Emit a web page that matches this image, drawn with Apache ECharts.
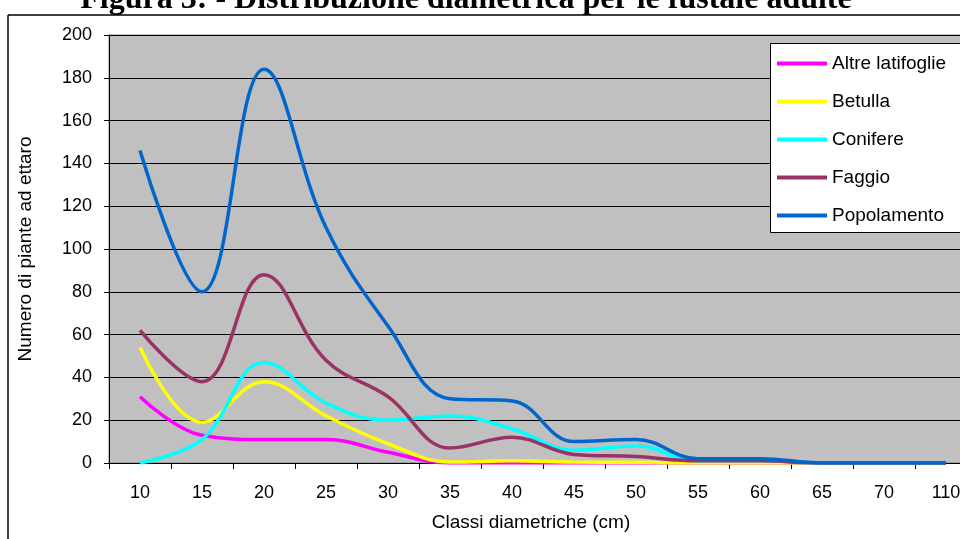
<!DOCTYPE html>
<html>
<head>
<meta charset="utf-8">
<style>
  html, body { margin: 0; padding: 0; background: #ffffff; overflow: hidden; }
  #chart { width: 1000px; height: 539px; }
</style>
<script src="https://cdn.jsdelivr.net/npm/echarts@6/dist/echarts.min.js"></script>
</head>
<body>
<div id="chart"></div>
<script>
// Classi diametriche (cm)
const classi = ['10', '15', '20', '25', '30', '35', '40', '45', '50', '55', '60', '65', '70', '110'];

// Numero di piante ad ettaro per specie
const altreLatifoglie = [31, 13, 11, 11, 5, 0, 0, 0, 0, 0, 0, 0, 0, 0];
const betulla         = [54, 19, 38, 22, 9, 0.5, 1, 0.5, 0.3, 0, 0, 0, 0, 0];
const conifere        = [0, 11, 47, 28, 20, 22, 16, 6, 8, 1, 1, 0, 0, 0];
const faggio          = [62, 38, 88, 48, 31, 7, 12, 4, 3, 1, 1, 0, 0, 0];
const popolamento     = [146, 80, 184, 110, 64, 30, 29, 10, 11, 2, 2, 0, 0, 0];

// Asse Y
const yMin = 0;
const yMax = 200;
const yStep = 20;

const FONT = '"Liberation Sans", Arial, sans-serif';

const chart = echarts.init(document.getElementById('chart'), null, { renderer: 'canvas' });

function serie(nome, dati, colore) {
  return {
    name: nome,
    type: 'line',
    data: dati,
    smooth: 0.4,
    showSymbol: false,
    symbol: 'none',
    color: colore,
    lineStyle: { color: colore, width: 3.5 },
    emphasis: { disabled: true },
    animation: false
  };
}

chart.setOption({
  backgroundColor: '#ffffff',
  animation: false,
  grid: {
    left: 109,
    right: 23,
    top: 35,
    height: 428,
    show: true,
    backgroundColor: '#C0C0C0',
    borderColor: '#808080',
    borderWidth: 1
  },
  legend: {
    orient: 'vertical',
    left: 770,
    top: 43,
    padding: [11, 5, 9, 7],
    itemWidth: 50,
    itemHeight: 4,
    itemGap: 19,
    icon: 'rect',
    selectedMode: false,
    textStyle: { fontFamily: FONT, fontSize: 19, color: '#000000' },
    data: ['Altre latifoglie', 'Betulla', 'Conifere', 'Faggio', 'Popolamento']
  },
  xAxis: {
    type: 'category',
    data: classi,
    boundaryGap: true,
    axisLine: { show: true, lineStyle: { color: '#000000', width: 1 } },
    axisTick: { show: true, length: 6, lineStyle: { color: '#000000' } },
    axisLabel: { color: '#000000', fontFamily: FONT, fontSize: 18, margin: 21 },
    splitLine: { show: false }
  },
  yAxis: {
    type: 'value',
    min: yMin,
    max: yMax,
    interval: yStep,
    axisLine: { show: true, lineStyle: { color: '#000000', width: 1 } },
    axisTick: { show: true, length: 5, lineStyle: { color: '#000000' } },
    axisLabel: { color: '#000000', fontFamily: FONT, fontSize: 18, margin: 17 },
    splitLine: { show: true, lineStyle: { color: '#000000', width: 1 } }
  },
  graphic: [
    {
      // riquadro della legenda
      type: 'rect',
      z: 3,
      shape: { x: 770.5, y: 43.5, width: 260, height: 189 },
      style: { fill: '#ffffff', stroke: '#000000', lineWidth: 1 }
    },
    {
      type: 'line',
      shape: { x1: 8, y1: 15, x2: 1000, y2: 15 },
      style: { stroke: '#404040', lineWidth: 2 }
    },
    {
      type: 'line',
      shape: { x1: 8, y1: 15, x2: 8, y2: 539 },
      style: { stroke: '#000000', lineWidth: 1.5 }
    },
    {
      type: 'text',
      x: 466,
      y: 0,
      style: {
        text: 'Figura 3: - Distribuzione diametrica per le fustaie adulte',
        font: 'bold 32px "Liberation Serif", "Times New Roman", serif',
        fill: '#000000',
        align: 'center',
        verticalAlign: 'middle',
        textAlign: 'center',
        textVerticalAlign: 'middle'
      }
    },
    {
      type: 'text',
      x: 531,
      y: 523,
      style: {
        text: 'Classi diametriche (cm)',
        font: '19px ' + FONT,
        fill: '#000000',
        align: 'center',
        verticalAlign: 'middle',
        textAlign: 'center',
        textVerticalAlign: 'middle'
      }
    },
    {
      type: 'text',
      x: 26,
      y: 249,
      rotation: Math.PI / 2,
      style: {
        text: 'Numero di piante ad ettaro',
        font: '19px ' + FONT,
        fill: '#000000',
        align: 'center',
        verticalAlign: 'middle',
        textAlign: 'center',
        textVerticalAlign: 'middle'
      }
    }
  ],
  series: [
    serie('Altre latifoglie', altreLatifoglie, '#FF00FF'),
    serie('Betulla', betulla, '#FFFF00'),
    serie('Conifere', conifere, '#00FFFF'),
    serie('Faggio', faggio, '#993366'),
    serie('Popolamento', popolamento, '#0066CC')
  ]
});
</script>
</body>
</html>
